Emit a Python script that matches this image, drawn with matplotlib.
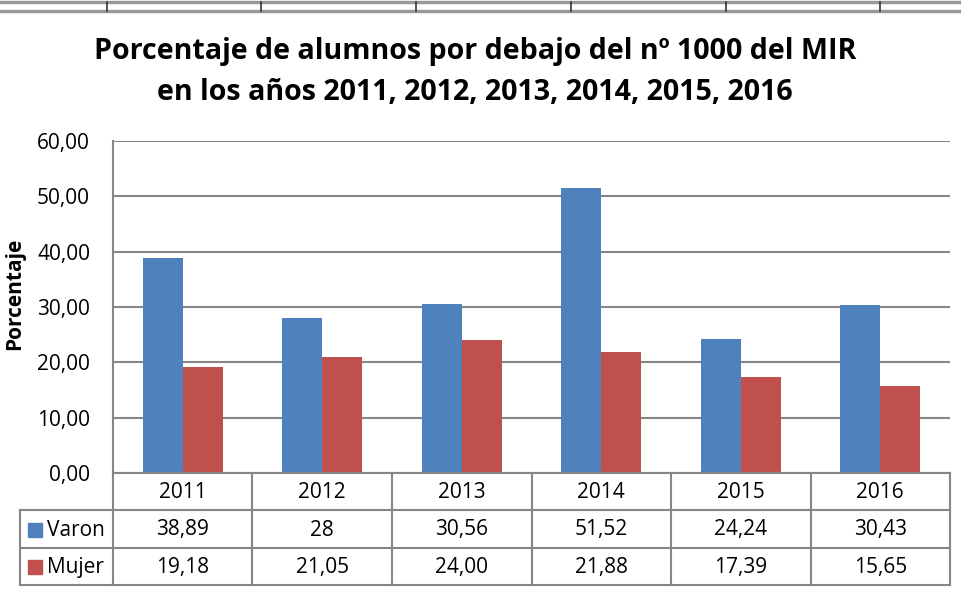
import matplotlib
matplotlib.use("Agg")
import matplotlib.pyplot as plt
from matplotlib.lines import Line2D
from matplotlib.patches import Rectangle
import numpy as np

years = ["2011", "2012", "2013", "2014", "2015", "2016"]
varon = [38.89, 28, 30.56, 51.52, 24.24, 30.43]
mujer = [19.18, 21.05, 24.00, 21.88, 17.39, 15.65]
varon_labels = ["38,89", "28", "30,56", "51,52", "24,24", "30,43"]
mujer_labels = ["19,18", "21,05", "24,00", "21,88", "17,39", "15,65"]
yticks = [0, 10, 20, 30, 40, 50, 60]
ytick_labels = ["0,00", "10,00", "20,00", "30,00", "40,00", "50,00", "60,00"]

BLUE = "#4F81BD"
RED = "#C0504D"
GRID = "#868686"
FONT = ["Open Sans", "DejaVu Sans"]
FS = 15

W, H = 961, 589
fig = plt.figure(figsize=(W / 100, H / 100), dpi=100)

def fx(x):
    return x / W

def fy(y):
    return 1 - y / H

left, right, top, bottom = 113, 950, 141, 473
ax = fig.add_axes([fx(left), fy(bottom), fx(right - left), (bottom - top) / H])

x = np.arange(len(years))
bw = 0.287
ax.bar(x - bw / 2, varon, bw, color=BLUE, zorder=3)
ax.bar(x + bw / 2, mujer, bw, color=RED, zorder=3)
ax.set_xlim(-0.5, len(years) - 0.5)
ax.set_ylim(0, 60)
ax.set_yticks(yticks)
ax.set_yticklabels(ytick_labels, fontsize=FS, family=FONT)
ax.set_xticks([])
ax.tick_params(axis="y", length=0, pad=16.5)
ax.grid(axis="y", color=GRID, linewidth=1.5, zorder=0)
for s in ["top", "right", "bottom"]:
    ax.spines[s].set_visible(False)
ax.spines["left"].set_color(GRID)
ax.spines["left"].set_linewidth(1.5)

fig.text(fx(15), fy(294), "Porcentaje", rotation=90, ha="center", va="center",
         fontsize=15, fontweight="bold", family=FONT)

# Title
fig.text(fx(475), fy(52), "Porcentaje de alumnos por debajo del nº 1000 del MIR",
         ha="center", va="center", fontsize=20.6, fontweight="bold", family=FONT)
fig.text(fx(475), fy(92), "en los años 2011, 2012, 2013, 2014, 2015, 2016",
         ha="center", va="center", fontsize=20.6, fontweight="bold", family=FONT)

# Data table
def hline(x0, x1, y, lw=1.5, c=GRID):
    fig.add_artist(Line2D([fx(x0), fx(x1)], [fy(y), fy(y)], color=c, lw=lw))

def vline(x, y0, y1, lw=1.5, c=GRID):
    fig.add_artist(Line2D([fx(x), fx(x)], [fy(y0), fy(y1)], color=c, lw=lw))

rows = [473, 510, 548, 585]
colw = (right - left) / len(years)
hline(left, right, rows[0])
hline(20, right, rows[1])
hline(20, right, rows[2])
hline(20, right, rows[3])
vline(20, rows[1], rows[3])
for i in range(len(years) + 1):
    vline(left + i * colw, rows[0], rows[3])

for i, yr in enumerate(years):
    cx = left + (i + 0.5) * colw
    fig.text(fx(cx), fy(492), yr, ha="center", va="center", fontsize=FS, family=FONT)
    fig.text(fx(cx), fy(530), varon_labels[i], ha="center", va="center", fontsize=FS, family=FONT)
    fig.text(fx(cx), fy(567), mujer_labels[i], ha="center", va="center", fontsize=FS, family=FONT)

for (yc, col, name) in [(530, BLUE, "Varon"), (567, RED, "Mujer")]:
    fig.add_artist(Rectangle((fx(28), fy(yc + 7)), 14 / W, 14 / H, color=col,
                             transform=fig.transFigure))
    fig.text(fx(47), fy(yc), name, ha="left", va="center", fontsize=FS, family=FONT)

# Spreadsheet artifacts at top
hline(0, W, 2, lw=2.5, c="#999999")
hline(0, W, 11, lw=2.5, c="#999999")
for xv in [107, 261, 416, 571, 726, 880]:
    vline(xv, 2, 11, lw=1.2, c="#333333")

fig.savefig("out.png", dpi=100)
